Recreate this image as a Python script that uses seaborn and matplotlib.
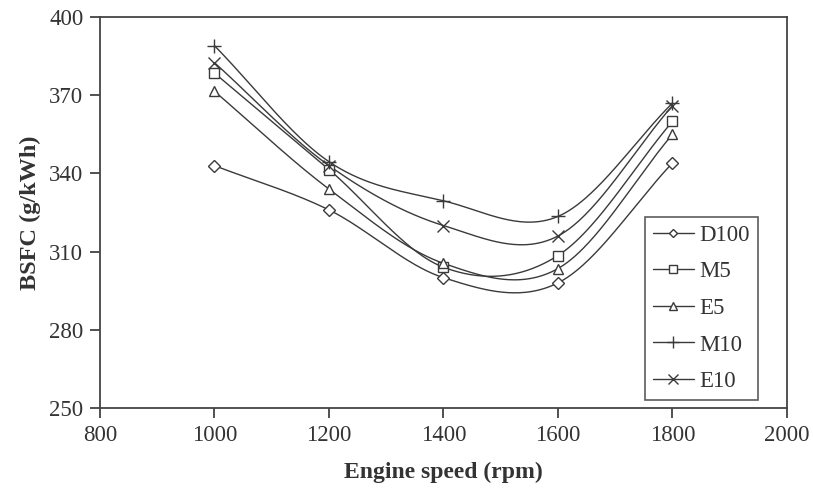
import numpy as np
import pandas as pd
import matplotlib
matplotlib.use("Agg")
import matplotlib.pyplot as plt
from matplotlib.lines import Line2D
import seaborn as sns

# Engine test data: BSFC (g/kWh) against engine speed (rpm)
speed = [1000, 1200, 1400, 1600, 1800]
d100 = [343, 326, 300, 298, 344]
m5 = [378.5, 341.5, 304, 308.5, 360]
e5 = [371.5, 334, 305.5, 303.5, 355]
m10 = [389, 344.5, 329.5, 323.5, 367]
e10 = [382.5, 343, 320, 316, 366]

series_names = ["D100", "M5", "E5", "M10", "E10"]
series_values = [d100, m5, e5, m10, e10]
markers = ["D", "s", "^", "+", "x"]
marker_sizes = [6, 7, 7, 10, 9]

x_ticks = [800, 1000, 1200, 1400, 1600, 1800, 2000]
y_ticks = [250, 280, 310, 340, 370, 400]


def smooth_curve(xs, ys, n=60):
    """Catmull-Rom style cubic Hermite curve through the given points."""
    xs = np.asarray(xs, float)
    ys = np.asarray(ys, float)
    k = len(ys)
    m = np.empty(k)
    m[1:-1] = (ys[2:] - ys[:-2]) / 2.0
    m[0] = ys[1] - ys[0]
    m[-1] = ys[-1] - ys[-2]
    cx, cy = [], []
    for i in range(k - 1):
        t = np.linspace(0, 1, n, endpoint=(i == k - 2))
        h00 = 2 * t**3 - 3 * t**2 + 1
        h10 = t**3 - 2 * t**2 + t
        h01 = -2 * t**3 + 3 * t**2
        h11 = t**3 - t**2
        cy.append(h00 * ys[i] + h10 * m[i] + h01 * ys[i + 1] + h11 * m[i + 1])
        cx.append(xs[i] + t * (xs[i + 1] - xs[i]))
    return np.concatenate(cx), np.concatenate(cy)


sns.set_theme(style="ticks")
plt.rcParams["font.family"] = ["Liberation Serif", "DejaVu Serif"]

fig = plt.figure(figsize=(8.13, 4.88), dpi=100)
ax = fig.add_axes([0.123, 0.164, 0.845, 0.801])

line_color = "#3a3a3a"
text_color = "#333333"
handles = []
for name, vals, mk, ms in zip(series_names, series_values, markers, marker_sizes):
    cx, cy = smooth_curve(speed, vals)
    curve = pd.DataFrame({"speed": cx, "bsfc": cy})
    sns.lineplot(data=curve, x="speed", y="bsfc", ax=ax, color=line_color,
                 linewidth=1.0, sort=False, legend=False)
    pts = pd.DataFrame({"speed": speed, "bsfc": vals})
    filled = mk in ("+", "x")
    ax.plot(pts["speed"], pts["bsfc"], linestyle="none", marker=mk,
            markersize=ms, markerfacecolor="white" if not filled else line_color,
            markeredgecolor=line_color, markeredgewidth=1.0, zorder=3)
    handles.append(Line2D([0], [0], color=line_color, linewidth=1.0, marker=mk,
                          markersize=ms - 1.5, markerfacecolor="white",
                          markeredgecolor=line_color, markeredgewidth=1.0,
                          label=name))

ax.set_xlim(800, 2000)
ax.set_ylim(250, 400)
ax.set_xticks(x_ticks)
ax.set_yticks(y_ticks)
ax.tick_params(axis="both", direction="out", length=7, width=1.2,
               color=text_color, labelsize=16.5, labelcolor=text_color)
ax.tick_params(axis="x", pad=5)
ax.tick_params(axis="y", pad=5)
for sp in ax.spines.values():
    sp.set_linewidth(1.3)
    sp.set_color("#444444")

ax.set_xlabel("Engine speed (rpm)", fontsize=17, fontweight="bold",
              color=text_color, labelpad=12)
ax.set_ylabel("BSFC (g/kWh)", fontsize=17.5, fontweight="bold",
              color=text_color, labelpad=6)

leg = ax.legend(handles=handles, loc="lower right", bbox_to_anchor=(0.958, 0.02),
                fontsize=16.5, frameon=True, fancybox=False, handlelength=1.8,
                handletextpad=0.25, labelspacing=0.68, borderpad=0.35,
                borderaxespad=0.0)
leg.get_frame().set_edgecolor(text_color)
leg.get_frame().set_linewidth(1.2)
for txt in leg.get_texts():
    txt.set_color(text_color)

fig.savefig("out.png", dpi=100, facecolor="white")
